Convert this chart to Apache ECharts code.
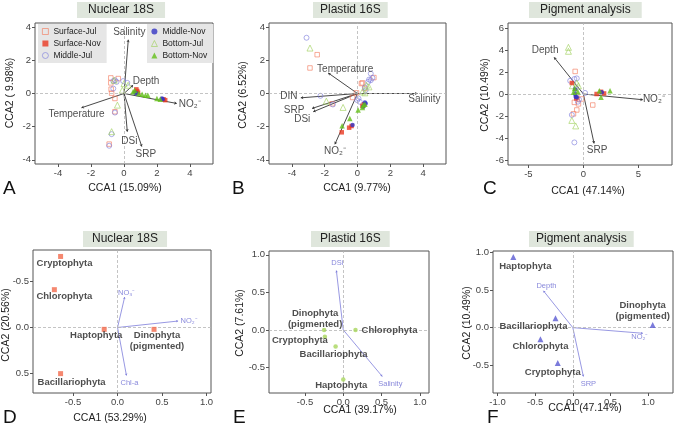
<!DOCTYPE html>
<html><head><meta charset="utf-8">
<script src="https://cdn.jsdelivr.net/npm/echarts@6/dist/echarts.min.js"></script>
<style>html,body{margin:0;padding:0;background:#fff}#c{width:674px;height:428px}</style>
</head><body><div id="c"></div>
<script>
// ---------------- DATA ----------------
const sampleGroups = ['Surface-Jul','Surface-Nov','Middle-Jul','Middle-Nov','Bottom-Jul','Bottom-Nov'];

// Panel A – Nuclear 18S (samples)
const nucSurfaceJul = [[-0.8,0.94],[-0.8,0.64],[-0.78,0.26],[-0.75,0.02],[-0.35,0.9],[-0.55,-0.3],[-0.55,-1.1],[-0.9,-3.05]];
const nucSurfaceNov = [[0.75,0.25],[0.8,0.15],[0.85,0.05],[2.4,-0.35],[2.5,-0.4]];
const nucMiddleJul  = [[-0.55,0.8],[-0.65,0.75],[-0.45,0.7],[-0.65,0.3],[-0.55,-1.15],[-0.75,-2.45],[-0.9,-3.15],[-0.05,0.75],[0.2,0.64]];
const nucMiddleNov  = [[0.68,0.05],[0.75,0.0],[2.3,-0.3],[2.35,-0.35]];
const nucBottomJul  = [[-0.4,-0.7],[-0.75,-2.3],[0.0,0.6],[0.25,0.5],[-0.1,0.2],[-0.6,0.8]];
const nucBottomNov  = [[0.55,0.1],[0.9,0.0],[1.1,-0.05],[1.3,-0.1],[1.45,-0.1],[2.0,-0.3],[2.2,-0.35],[0.65,0.2]];
const nucEnvNames = ['Salinity','Depth','NO₂⁻','Temperature','DSi','SRP'];
const nucEnvX = [0.26,0.55,3.2,-2.58,0.2,1.08];
const nucEnvY = [3.24,0.5,-0.6,-0.86,-2.3,-3.2];

// Panel B – Plastid 16S (samples)
const plaSurfaceJul = [[-2.46,2.34],[-2.9,1.54],[-1.55,-0.62],[-0.06,0.04],[-0.3,-0.24],[0.24,0.6],[1.0,0.96],[0.45,0.3],[0.3,0.64]];
const plaSurfaceNov = [[-0.51,-2.06],[-0.36,-1.96],[-0.96,-2.34],[0.3,-0.75],[0.4,-0.65]];
const plaMiddleJul  = [[-3.11,3.36],[-2.26,-0.14],[-1.5,-0.66],[0.06,-0.3],[0.14,-0.5],[-0.02,-0.4],[0.81,1.2],[0.71,0.84],[0.65,0.7],[0.45,0.36],[0.5,0.2],[0.91,0.94],[0.81,0.8]];
const plaMiddleNov  = [[-0.3,-1.9],[0.45,-0.55],[0.5,-0.6],[0.35,-0.8]];
const plaBottomJul  = [[-2.9,2.74],[-1.9,-0.46],[-0.88,-0.84],[0.45,0.04],[0.7,0.4],[0.55,0.5],[0.3,0.1]];
const plaBottomNov  = [[-0.47,-1.5],[-0.94,-1.94],[0.04,-1.0],[0.3,-0.85],[0.35,-0.7],[0.45,-0.65]];
const plaEnvNames = ['Salinity','Temperature','DIN','SRP','DSi','NO₂⁻'];
const plaEnvX = [3.66,-1.79,-3.46,-2.77,-2.7,-1.38];
const plaEnvY = [0.0,1.24,-0.26,-0.9,-1.1,-3.06];

// Panel C – Pigment analysis (samples)
const pigSurfaceJul = [[-0.75,2.05],[-0.15,-0.45],[-0.82,-0.76],[-0.45,-0.9],[-0.6,-1.45],[-0.9,-1.8],[0.85,-1.0],[-0.6,-0.2]];
const pigSurfaceNov = [[-1.05,1.0],[-0.65,-0.4],[1.2,0.0],[1.88,0.05],[1.6,0.2]];
const pigMiddleJul  = [[-0.6,1.42],[-0.82,1.36],[-1.2,1.2],[0.15,0.1],[-1.05,-1.9],[-0.82,-4.4],[-0.5,-0.7],[-0.4,-0.5],[-0.7,0.5]];
const pigMiddleNov  = [[-0.75,0.0],[-0.7,-0.25],[-0.6,-0.3],[1.67,0.15],[-0.75,0.4]];
const pigBottomJul  = [[-1.36,4.24],[-1.36,3.88],[-1.0,0.75],[-0.45,0.75],[-1.05,-2.4],[-0.7,-2.9],[-0.6,1.0]];
const pigBottomNov  = [[-0.9,0.15],[1.45,0.3],[2.42,0.3],[1.6,-0.3],[-0.8,0.5],[-0.5,0.2]];
const pigEnvNames = ['Depth','NO₂⁻','SRP'];
const pigEnvX = [-2.66,5.4,0.97];
const pigEnvY = [3.33,-0.52,-4.49];

// Panel D – Nuclear 18S (taxa)
const taxaD = ['Cryptophyta','Chlorophyta','Haptophyta','Dinophyta\n(pigmented)','Bacillariophyta'];
const taxaDX = [-0.64,-0.71,-0.15,0.41,-0.64];
const taxaDY = [-0.77,-0.41,0.02,0.02,0.5];
const envDNames = ['NO₃⁻','NO₂⁻','Chl-a'];
const envDX = [0.08,0.68,0.1];
const envDY = [-0.33,-0.07,0.52];

// Panel E – Plastid 16S (taxa)
const taxaE = ['Dinophyta\n(pigmented)','Cryptophyta','Bacillariophyta','Chlorophyta','Haptophyta'];
const taxaEX = [-0.25,-0.24,-0.1,0.16,0.0];
const taxaEY = [0.0,-0.09,-0.22,0.0,-0.66];
const envENames = ['DSi','Salinity'];
const envEX = [-0.09,0.51];
const envEY = [0.79,-0.62];

// Panel F – Pigment analysis (taxa)
const taxaF = ['Haptophyta','Bacillariophyta','Chlorophyta','Cryptophyta','Dinophyta\n(pigmented)'];
const taxaFX = [-0.79,-0.23,-0.43,-0.2,1.06];
const taxaFY = [0.94,0.125,-0.155,-0.47,0.036];
const envFNames = ['Depth','NO₂⁻','SRP'];
const envFX = [-0.39,0.93,0.14];
const envFY = [0.49,-0.075,-0.65];

// Tick labels
const ticksAB = [-4,-2,0,2,4];
const ticksCx = [-5,0,5];
const ticksCy = [-6,-4,-2,0,2,4,6];
const ticksDx = [-0.5,0,0.5,1];
const ticksDy = [-0.5,0,0.5];
const ticksEx = [-0.5,0,0.5,1];
const ticksEy = [-0.5,0,0.5,1];
const ticksFx = [-1,-0.5,0,0.5,1];
const ticksFy = [-0.5,0,0.5,1];

const titlesText = ['Nuclear 18S','Plastid 16S','Pigment analysis','Nuclear 18S','Plastid 16S','Pigment analysis'];
const xNames = ['CCA1 (15.09%)','CCA1 (9.77%)','CCA1 (47.14%)','CCA1 (53.29%)','CCA1 (39.17%)','CCA1 (47.14%)'];
const yNames = ['CCA2 ( 9.98%)','CCA2 (6.52%)','CCA2 (10.49%)','CCA2 (20.56%)','CCA2 (7.61%)','CCA2 (10.49%)'];
const letters = ['A','B','C','D','E','F'];

// ---------------- LAYOUT / STYLE ----------------
const FONT = '"Liberation Sans", Arial, sans-serif';
const GS = {
  'Surface-Jul': {symbol:'rect', color:'#f27a5e', size:4.5, open:true},
  'Surface-Nov': {symbol:'rect', color:'#ea3822', size:4.5},
  'Middle-Jul':  {symbol:'circle', color:'#7e7edc', size:5, open:true},
  'Middle-Nov':  {symbol:'circle', color:'#3434c4', size:4.5},
  'Bottom-Jul':  {symbol:'triangle', color:'#9fd05c', size:6, open:true},
  'Bottom-Nov':  {symbol:'triangle', color:'#63bf18', size:5.5}
};
const panels = [
  {grid:{left:35,top:23,width:178,height:141}, x:[-5.4,5.4], y:[-4.25,4.25], xt:ticksAB, yt:ticksAB, dec:0},
  {grid:{left:269,top:23,width:177,height:141}, x:[-5.4,5.4], y:[-4.25,4.25], xt:ticksAB, yt:ticksAB, dec:0},
  {grid:{left:508,top:23,width:164,height:142}, x:[-6.85,8.05], y:[-6.45,6.45], xt:ticksCx, yt:ticksCy, dec:0},
  {grid:{left:33,top:250,width:178,height:143}, x:[-0.95,1.05], y:[-0.84,0.71], xt:ticksDx, yt:ticksDy, dec:1, inv:true},
  {grid:{left:269,top:251,width:160,height:142}, x:[-0.97,1.12], y:[-0.84,1.05], xt:ticksEx, yt:ticksEy, dec:1},
  {grid:{left:493,top:251,width:180,height:142}, x:[-1.06,1.33], y:[-0.87,1.02], xt:ticksFx, yt:ticksFy, dec:1}
];
const titleBoxes = [
  {left:77, top:2, pad:11},{left:313, top:2, pad:7},{left:529, top:2, pad:11},
  {left:83, top:231, pad:9},{left:311, top:231, pad:9},{left:529, top:231, pad:7}
];
const xNamePos = [[125,188],[357,188],[588,191],[110,418],[360,410],[585,408]];
const yNamePos = [[10,93],[243,95],[485,95],[6,325],[240,323],[467,323]];
const letterPos = [[3,179],[232,179],[483,179],[3,408],[233,408],[487,408]];

const envOffsets = [
  {'Salinity':[1,-8],'Depth':[13,-4],'NO₂⁻':[13,1],'Temperature':[-5,6],'DSi':[2,10],'SRP':[4,8]},
  {'Salinity':[7,6],'Temperature':[17,-4],'DIN':[-12,-2],'SRP':[-18,2],'DSi':[-11,8],'NO₂⁻':[0,7]},
  {'Depth':[-9,-7],'NO₂⁻':[11,0],'SRP':[3,7]},
  {'NO₃⁻':[2,-4],'NO₂⁻':[11,0],'Chl-a':[3,7]},
  {'DSi':[1,-8],'Salinity':[8,7]},
  {'Depth':[3,-5],'NO₂⁻':[-3,4],'SRP':[5,7]}
];
const taxaOffsets = [
  {'Cryptophyta':[4,7],'Chlorophyta':[10,7],'Haptophyta':[-8,6],'Dinophyta\n(pigmented)':[3,12],'Bacillariophyta':[11,9]},
  {'Dinophyta\n(pigmented)':[-9,-11],'Cryptophyta':[-25,4],'Bacillariophyta':[-2,8],'Chlorophyta':[34,0],'Haptophyta':[-2,6]},
  {'Haptophyta':[12,9],'Bacillariophyta':[-22,8],'Chlorophyta':[0,7],'Cryptophyta':[-5,9],'Dinophyta\n(pigmented)':[-10,-14]}
];

// ---------------- BUILD ----------------
const fmt = (v, dec) => dec ? v.toFixed(dec) : String(v);
const grids = [], xAxes = [], yAxes = [], series = [];

panels.forEach((p, i) => {
  grids.push(Object.assign({show:true, borderColor:'#555', borderWidth:1, backgroundColor:'transparent', containLabel:false}, p.grid));
  const axisCommon = (ticks, dec) => ({
    type:'value', gridIndex:i, scale:false,
    axisLine:{show:false, onZero:false},
    splitLine:{show:false},
    axisTick:{show:true, customValues:ticks, length:3, lineStyle:{color:'#555'}},
    axisLabel:{customValues:ticks, formatter:v=>fmt(v,dec), fontSize:9.5, color:'#444', margin:4, fontFamily:FONT}
  });
  xAxes.push(Object.assign(axisCommon(p.xt, p.dec), {min:p.x[0], max:p.x[1]}));
  yAxes.push(Object.assign(axisCommon(p.yt, p.dec), {min:p.y[0], max:p.y[1], inverse:!!p.inv}));
  series.push({type:'scatter', xAxisIndex:i, yAxisIndex:i, data:[[0,0]], symbolSize:0, silent:true, z:1,
    markLine:{silent:true, symbol:'none', label:{show:false}, animation:false,
      lineStyle:{color:'#b5b5b5', type:[3,2], width:0.8}, data:[{xAxis:0},{yAxis:0}]}});
});

function addSamples(i, lists) {
  sampleGroups.forEach((g, k) => {
    const s = GS[g];
    series.push({type:'scatter', name:g, xAxisIndex:i, yAxisIndex:i, data:lists[k], symbol:s.symbol,
      symbolSize:s.size, silent:true, z: s.open ? 4 : 5,
      itemStyle: s.open ? {color:'rgba(255,255,255,0)', borderColor:s.color, borderWidth:0.8}
                        : {color:s.color, borderWidth:0}});
  });
}
function addEnv(i, names, xs, ys, color, width, head, fontSize) {
  series.push({type:'lines', coordinateSystem:'cartesian2d', xAxisIndex:i, yAxisIndex:i, silent:true, z:3,
    symbol:['none','arrow'], symbolSize:head, lineStyle:{color:color, width:width, opacity:1},
    data: xs.map((x,k)=>({coords:[[0,0],[x,ys[k]]]}))});
  series.push({type:'scatter', xAxisIndex:i, yAxisIndex:i, symbolSize:0, silent:true, z:6,
    data: names.map((n,k)=>({name:n, value:[xs[k],ys[k]], label:{offset:envOffsets[i][n]}})),
    label:{show:true, position:'inside', formatter:'{b}', align:'center', verticalAlign:'middle',
      color: i<3 ? '#222' : '#6a6ad2', fontSize:fontSize, fontFamily:FONT}});
}
function addTaxa(i, names, xs, ys, symbol, color, size) {
  series.push({type:'scatter', xAxisIndex:i, yAxisIndex:i, symbol:symbol, symbolSize:size, silent:true, z:5,
    itemStyle:{color:color},
    data: names.map((n,k)=>({name:n, value:[xs[k],ys[k]], label:{offset:taxaOffsets[i-3][n]}})),
    label:{show:true, position:'inside', formatter:'{b}', align:'center', verticalAlign:'middle',
      color:'#222', fontSize:9.5, fontWeight:'bold', lineHeight:11, fontFamily:FONT}});
}

addSamples(0, [nucSurfaceJul,nucSurfaceNov,nucMiddleJul,nucMiddleNov,nucBottomJul,nucBottomNov]);
addSamples(1, [plaSurfaceJul,plaSurfaceNov,plaMiddleJul,plaMiddleNov,plaBottomJul,plaBottomNov]);
addSamples(2, [pigSurfaceJul,pigSurfaceNov,pigMiddleJul,pigMiddleNov,pigBottomJul,pigBottomNov]);
addEnv(0, nucEnvNames, nucEnvX, nucEnvY, '#333', 0.9, 2.5, 10);
addEnv(1, plaEnvNames, plaEnvX, plaEnvY, '#333', 0.9, 2.5, 10);
addEnv(2, pigEnvNames, pigEnvX, pigEnvY, '#333', 0.9, 2.5, 10);
addEnv(3, envDNames, envDX, envDY, '#7d7dda', 0.8, 2, 7.5);
addEnv(4, envENames, envEX, envEY, '#7d7dda', 0.8, 2, 7.5);
addEnv(5, envFNames, envFX, envFY, '#7d7dda', 0.8, 2, 7.5);
addTaxa(3, taxaD, taxaDX, taxaDY, 'rect', '#f26a4c', 5);
addTaxa(4, taxaE, taxaEX, taxaEY, 'circle', '#a8d65c', 4.5);
addTaxa(5, taxaF, taxaFX, taxaFY, 'triangle', '#5a5ad2', 6);

const titles = titlesText.map((t,i)=>({text:t, left:titleBoxes[i].left, top:titleBoxes[i].top,
  backgroundColor:'#dfe6dc', padding:[2,titleBoxes[i].pad],
  textStyle:{fontSize:12, fontWeight:'normal', color:'#222', fontFamily:FONT}}));

const graphic = [];
xNames.forEach((t,i)=>graphic.push({type:'text', x:xNamePos[i][0], y:xNamePos[i][1], silent:true,
  style:{text:t, align:'center', verticalAlign:'middle', fontSize:10.5, fill:'#222', fontFamily:FONT}}));
yNames.forEach((t,i)=>graphic.push({type:'text', x:yNamePos[i][0], y:yNamePos[i][1], rotation:Math.PI/2, silent:true,
  style:{text:t, align:'center', verticalAlign:'middle', fontSize:10.5, fill:'#222', fontFamily:FONT}}));
letters.forEach((t,i)=>graphic.push({type:'text', x:letterPos[i][0], y:letterPos[i][1], silent:true,
  style:{text:t, align:'left', verticalAlign:'top', fontSize:19, fill:'#111', fontFamily:FONT}}));

const legendCommon = {orient:'vertical', top:24, backgroundColor:'#e6e6e6', padding:[3,6,3,4], itemGap:3,
  itemWidth:6, itemHeight:6, selectedMode:false, itemStyle:{borderWidth:0.8},
  textStyle:{fontSize:8.5, color:'#222', fontFamily:FONT}};

const chart = echarts.init(document.getElementById('c'), null, {renderer:'canvas'});
chart.setOption({
  animation:false,
  backgroundColor:'#fff',
  title: titles,
  legend:[
    Object.assign({data:sampleGroups.slice(0,3), left:38}, legendCommon),
    Object.assign({data:sampleGroups.slice(3), left:147}, legendCommon)
  ],
  grid: grids, xAxis: xAxes, yAxis: yAxes, series: series, graphic: graphic
});
</script></body></html>
